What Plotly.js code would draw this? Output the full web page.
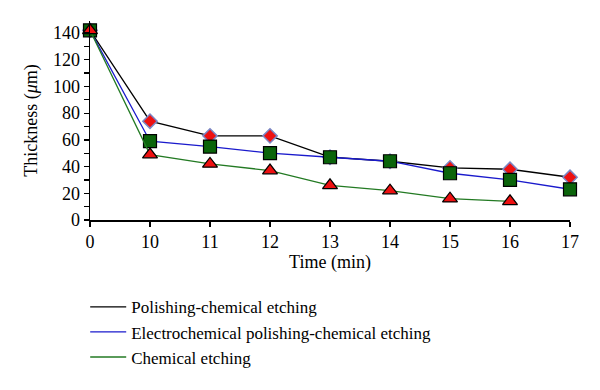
<!DOCTYPE html>
<html>
<head>
<meta charset="utf-8">
<script src="https://cdn.plot.ly/plotly-3.0.1.min.js"></script>
<style>html,body{margin:0;padding:0;background:#fff;}#chart{width:600px;height:390px;}</style>
</head>
<body>
<div id="chart"></div>
<script>
const times = ["0", "10", "11", "12", "13", "14", "15", "16", "17"];
const polishingChem = [142, 74, 63, 63, 47, 44, 39, 38, 32];
const electroPolishingChem = [142, 59, 55, 50, 47, 44, 35, 30, 23];
const chemicalTimes = ["0", "10", "11", "12", "13", "14", "15", "16"];
const chemicalEtching = [142, 49, 42, 37, 26, 22, 16, 14];
const seriesNames = ["Polishing-chemical etching", "Electrochemical polishing-chemical etching", "Chemical etching"];

const FONT = "'Liberation Serif', 'Times New Roman', serif";

const traces = [
  {x: times, y: polishingChem, mode: "lines+markers", showlegend: false, cliponaxis: false,
   line: {color: "#000000", width: 1.3},
   marker: {symbol: "diamond", size: 11, color: "#ee1111", line: {color: "#7b86c4", width: 1.5}}},
  {x: times, y: electroPolishingChem, mode: "lines+markers", showlegend: false, cliponaxis: false,
   line: {color: "#1a1acc", width: 1.3},
   marker: {symbol: "square", size: 13, color: "#0b640b", line: {color: "#000000", width: 1.2}}},
  {x: chemicalTimes, y: chemicalEtching, mode: "lines+markers", showlegend: false, cliponaxis: false,
   line: {color: "#237a23", width: 1.3},
   marker: {symbol: "triangle-up", size: 13, color: "#ee1111", line: {color: "#000000", width: 1.2}}},
  {x: [null], y: [null], mode: "lines", name: seriesNames[0], line: {color: "#000000", width: 1.3}},
  {x: [null], y: [null], mode: "lines", name: seriesNames[1], line: {color: "#1a1acc", width: 1.3}},
  {x: [null], y: [null], mode: "lines", name: seriesNames[2], line: {color: "#237a23", width: 1.3}}
];

const layout = {
  width: 600, height: 390,
  margin: {l: 90, r: 30, t: 21, b: 170},
  paper_bgcolor: "#ffffff", plot_bgcolor: "#ffffff",
  font: {family: FONT, size: 18, color: "#000000"},
  showlegend: true,
  legend: {x: -0.01, y: -0.348, xanchor: "left", yanchor: "top", bgcolor: "rgba(0,0,0,0)",
           font: {family: FONT, size: 17, color: "#000"}, tracegroupgap: 0, itemwidth: 36},
  xaxis: {
    type: "category", categoryorder: "array", categoryarray: times,
    range: [0, 8], showgrid: false, zeroline: false,
    showline: true, linecolor: "#000", linewidth: 1.5,
    ticks: "outside", ticklen: 5, tickwidth: 1.3, tickcolor: "#000",
    tickfont: {family: FONT, size: 18},
    title: {text: "Time (min)", font: {family: FONT, size: 18}, standoff: 4}
  },
  yaxis: {
    range: [0, 149], showgrid: false, zeroline: false,
    showline: true, linecolor: "#000", linewidth: 1.5,
    tickmode: "linear", tick0: 0, dtick: 20,
    ticks: "outside", ticklen: 5, tickwidth: 1.3, tickcolor: "#000",
    minor: {dtick: 10, ticks: "outside", ticklen: 5, tickwidth: 1.3, tickcolor: "#000", showgrid: false},
    tickfont: {family: FONT, size: 18},
    title: {text: "Thickness (<i>μ</i>m)", font: {family: FONT, size: 18}, standoff: 10}
  }
};

Plotly.newPlot("chart", traces, layout, {displayModeBar: false, staticPlot: true});
</script>
</body>
</html>
